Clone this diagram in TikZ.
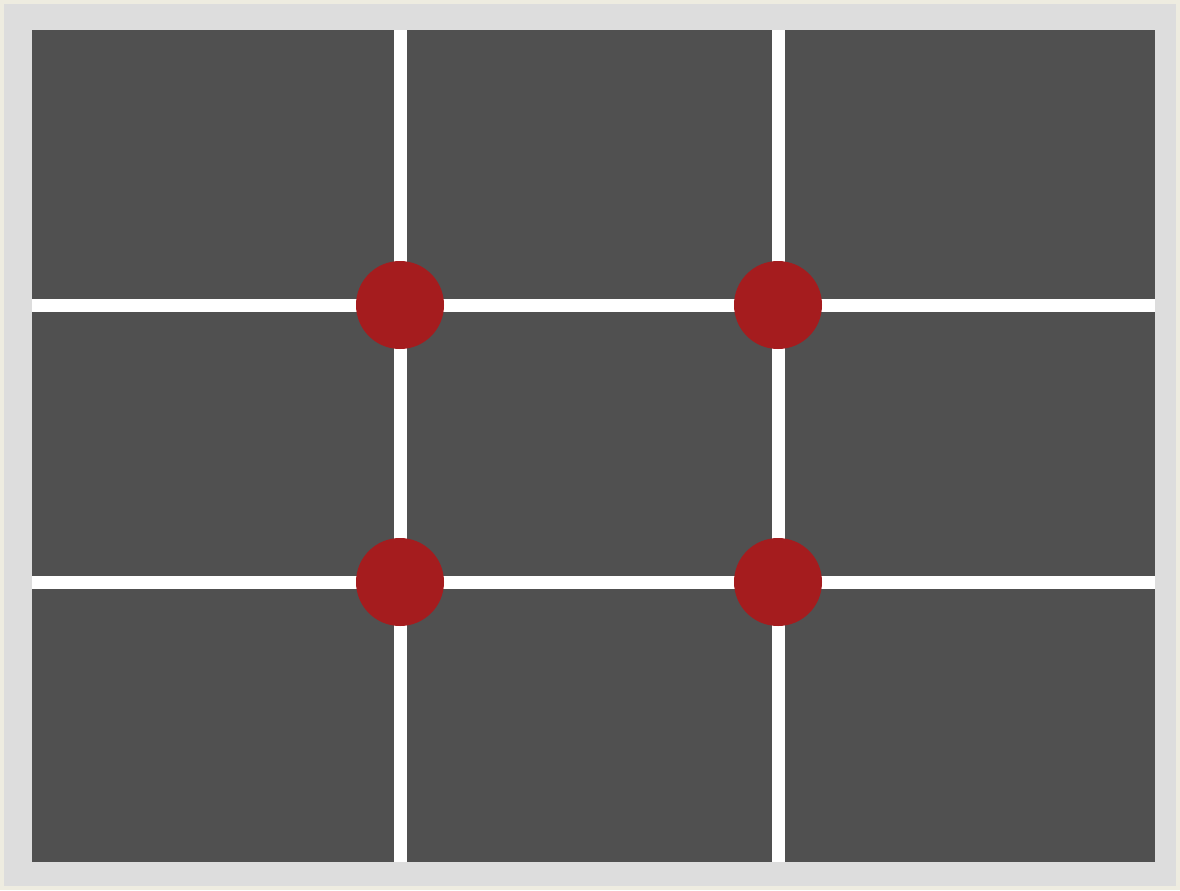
\documentclass[tikz,border=0pt]{standalone}
\usepackage{tikz}
\usetikzlibrary{positioning}
\usepackage{xcolor}
\definecolor{frame}{RGB}{221,221,221}
\definecolor{cream}{RGB}{238,236,224}
\definecolor{canvas}{RGB}{80,80,80}
\definecolor{dotred}{RGB}{165,28,30}

\begin{document}
\begin{tikzpicture}[x=0.02cm, y=-0.02cm]
  \useasboundingbox (0,0) rectangle (1180,890);
  \fill[cream] (0,0) rectangle (1180,890);
  \fill[frame] (4,4) rectangle (1176,886);
  \fill[canvas] (32,30) rectangle (1155,862);
  % thirds
  \foreach \x in {400,778}
    \draw[white, line width=0.26cm] (\x,30) -- (\x,862);
  \foreach \y in {305,582}
    \draw[white, line width=0.26cm] (32,\y) -- (1155,\y);
  % power points
  \foreach \x in {400,778}
    \foreach \y in {305,582}
      \fill[dotred] (\x,\y) circle (44);
\end{tikzpicture}
\end{document}
